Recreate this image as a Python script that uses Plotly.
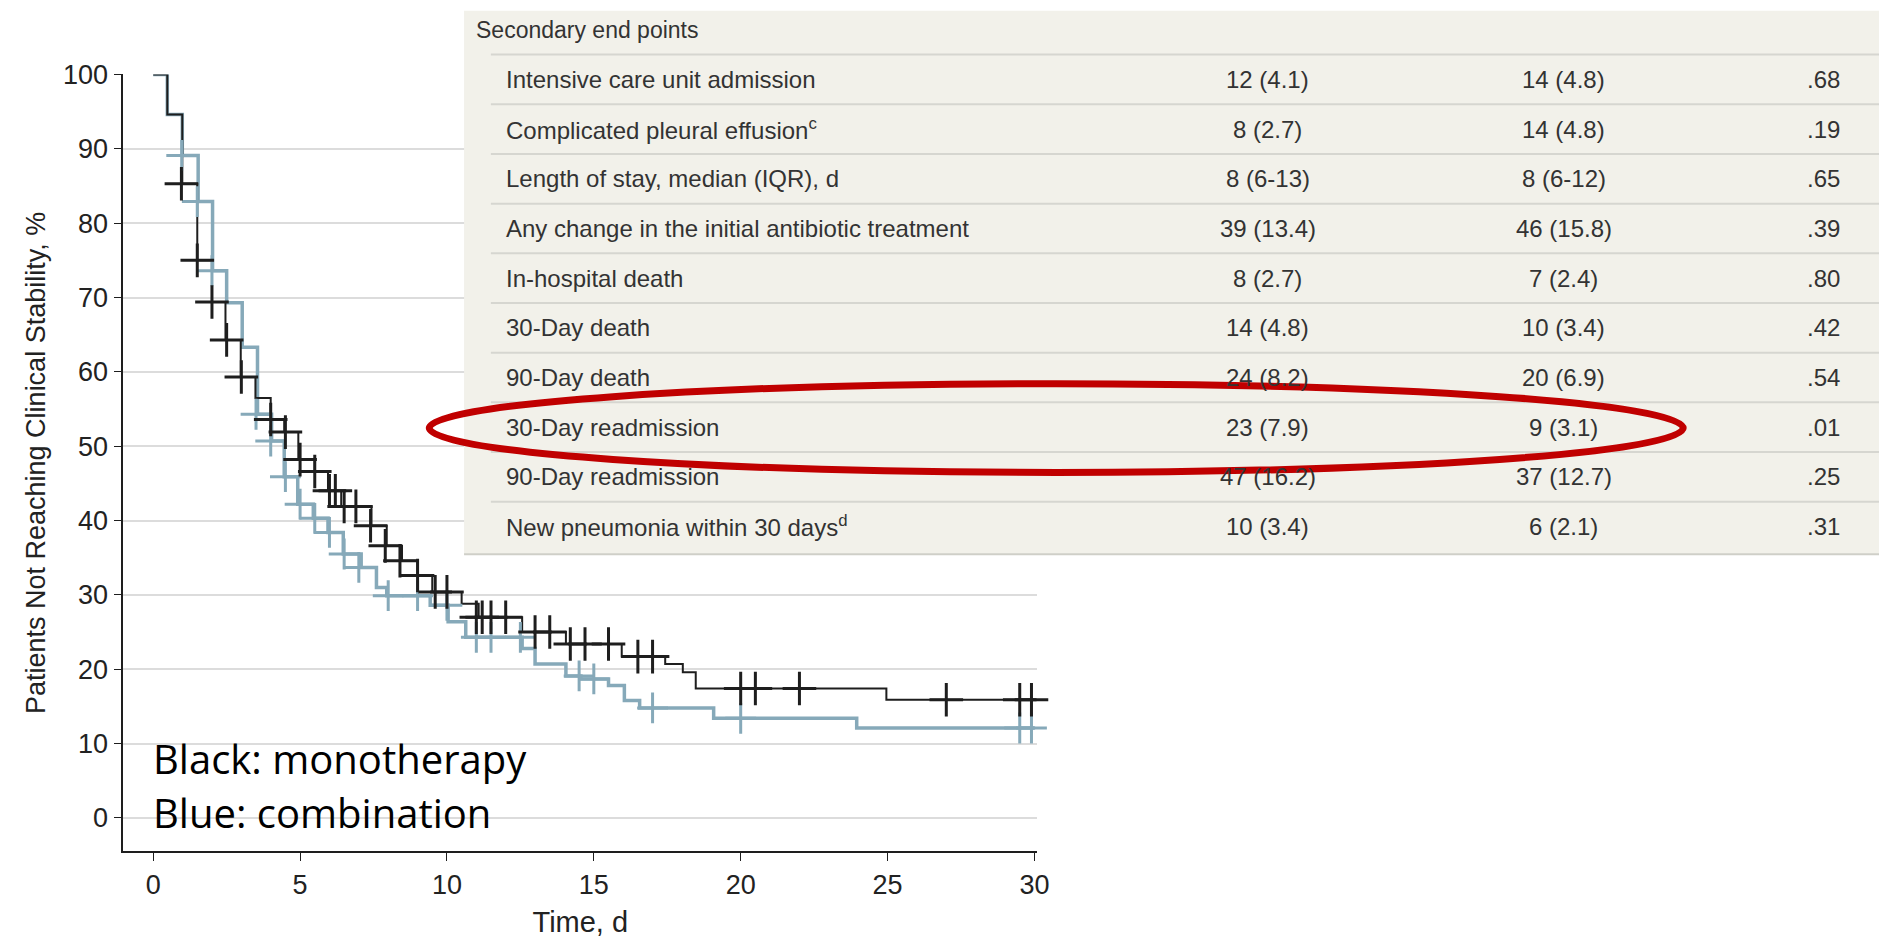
import plotly.graph_objects as go

W, H = 1871, 930  # leaves room for the page's 8px body margin
OFF = 8

# Kaplan-Meier step points (time, % not reaching stability)
mono_t = [0, 0.48, 0.99, 1.5, 2.0, 2.46, 2.98, 3.48, 4.0, 4.46, 4.94, 5.5, 5.95, 6.4, 7.43, 7.95,
          8.47, 9.0, 9.5, 10.5, 11.08, 12.56, 14.05, 15.95, 17.43, 18.03, 18.47, 24.96, 30]
mono_s = [100, 94.6, 85.3, 75.0, 69.4, 64.3, 59.3, 56.5, 53.6, 51.9, 48.2, 46.6, 44.0, 41.9, 39.3, 36.6,
          34.6, 32.6, 30.4, 28.8, 27.0, 25.0, 23.4, 21.7, 20.7, 19.6, 17.4, 15.9, 15.9]
comb_t = [0, 0.48, 0.99, 1.53, 2.02, 2.5, 3.03, 3.55, 4.03, 4.46, 4.92, 5.45, 5.95, 6.47, 7.08, 7.6,
          7.95, 9.43, 10.04, 10.64, 12.56, 13.0, 14.05, 14.56, 15.5, 16.04, 16.56, 19.08, 23.95, 30]
comb_s = [100, 94.6, 89.1, 82.9, 73.6, 69.3, 63.3, 54.3, 50.7, 45.9, 42.2, 40.3, 38.4, 35.5, 33.7, 31.0,
          29.9, 28.6, 26.4, 24.3, 22.8, 20.7, 19.1, 18.7, 17.8, 15.8, 14.8, 13.4, 12.1, 12.1]

# censoring marks
mono_ct = [0.96, 1.5, 2.0, 2.5, 3.0, 4.0, 4.5, 5.0, 5.5, 6.0, 6.2, 6.5, 6.9, 7.4, 7.9, 8.4, 9.0, 9.6, 10.0,
           11.0, 11.2, 11.5, 12.0, 13.0, 13.5, 14.2, 14.7, 15.5, 16.5, 17.0, 20.0, 20.5, 22.0, 27.0, 29.5, 29.9]
mono_cs = [85.3, 75.0, 69.4, 64.3, 59.3, 53.6, 51.9, 48.2, 46.6, 44.0, 44.0, 41.9, 41.9, 39.3, 36.6, 34.6,
           32.6, 30.4, 30.4, 27.0, 27.0, 27.0, 27.0, 25.0, 25.0, 23.4, 23.4, 23.4, 21.7, 21.7, 17.4, 17.4,
           17.4, 15.9, 15.9, 15.9]
comb_ct = [0.97, 1.5, 2.0, 3.5, 4.0, 4.5, 5.0, 5.5, 6.0, 6.5, 7.0, 8.0, 9.0, 10.0, 11.0, 11.5, 12.5,
           14.5, 15.0, 17.0, 20.0, 29.5, 29.9]
comb_cs = [89.1, 82.9, 73.6, 54.3, 50.7, 45.9, 42.2, 40.3, 38.4, 35.5, 33.7, 29.9, 29.9, 28.6, 24.3, 24.3,
           24.3, 19.1, 18.7, 14.8, 13.4, 12.1, 12.1]

# table
header = "Secondary end points"
rows = ["Intensive care unit admission", "Complicated pleural effusion<sup>c</sup>",
        "Length of stay, median (IQR), d", "Any change in the initial antibiotic treatment",
        "In-hospital death", "30-Day death", "90-Day death", "30-Day readmission",
        "90-Day readmission", "New pneumonia within 30 days<sup>d</sup>"]
col_mono = ["12 (4.1)", "8 (2.7)", "8 (6-13)", "39 (13.4)", "8 (2.7)", "14 (4.8)", "24 (8.2)",
            "23 (7.9)", "47 (16.2)", "10 (3.4)"]
col_comb = ["14 (4.8)", "14 (4.8)", "8 (6-12)", "46 (15.8)", "7 (2.4)", "10 (3.4)", "20 (6.9)",
            "9 (3.1)", "37 (12.7)", "6 (2.1)"]
col_p = [".68", ".19", ".65", ".39", ".80", ".42", ".54", ".01", ".25", ".31"]

BLUE = "#86a9b9"
BLACK = "#1e1e1e"
FONT = "Liberation Sans Narrow, Liberation Sans, sans-serif"
TXT = "#333"


def px(x):
    return (x + 4 - OFF) / W


def py(y):
    # empirical correction for where the page really lands
    return 1 - ((y - 12.5) / 0.9865 - OFF) / H


fig = go.Figure()
fig.add_trace(go.Scatter(x=comb_t, y=comb_s, mode="lines", line=dict(color=BLUE, width=3.5, shape="hv")))
fig.add_trace(go.Scatter(x=mono_t, y=mono_s, mode="lines", line=dict(color=BLACK, width=2, shape="hv")))
fig.add_trace(go.Scatter(x=comb_ct, y=comb_cs, mode="markers", cliponaxis=False,
                         marker=dict(symbol="cross-thin", size=22, line=dict(color=BLUE, width=3))))
fig.add_trace(go.Scatter(x=mono_ct, y=mono_cs, mode="markers", cliponaxis=False,
                         marker=dict(symbol="cross-thin", size=24, line=dict(color=BLACK, width=3))))

fig.update_layout(
    width=W, height=H, margin=dict(l=0, r=0, t=0, b=0),
    paper_bgcolor="white", plot_bgcolor="white", showlegend=False,
    font=dict(family=FONT, color="#222"),
    xaxis=dict(domain=[px(120), px(1040)], range=[-1.02, 30.1], tickvals=[0, 5, 10, 15, 20, 25, 30],
               showgrid=False, zeroline=False, showline=True, linecolor=BLACK, linewidth=1.5,
               ticks="outside", ticklen=8, tickcolor=BLACK, tickfont=dict(size=27),
               title=dict(text="Time, d", font=dict(size=29), standoff=14)),
    yaxis=dict(domain=[py(851), py(72)], range=[-4.5, 100], tickvals=list(range(0, 101, 10)),
               showgrid=True, gridcolor="#dcdcdc", gridwidth=2, zeroline=False,
               showline=True, linecolor=BLACK, linewidth=1.5,
               ticks="outside", ticklen=8, tickcolor=BLACK, tickfont=dict(size=27),
               title=dict(text="Patients Not Reaching Clinical Stability, %", font=dict(size=27), standoff=10)),
)

# table box
RIGHT = 1.03
shapes = [dict(type="rect", xref="paper", yref="paper", x0=px(463), x1=RIGHT, y0=py(553), y1=py(8),
               fillcolor="#f2f1ea", line=dict(width=0), layer="above")]
row_h = 49.8
first_y = 77
for i in range(len(rows)):
    yl = first_y - row_h / 2 + i * row_h
    shapes.append(dict(type="line", xref="paper", yref="paper", x0=px(490), x1=RIGHT,
                       y0=py(yl), y1=py(yl), line=dict(color="#d6d6d0", width=2), layer="above"))
shapes.append(dict(type="line", xref="paper", yref="paper", x0=px(463), x1=RIGHT, y0=py(553), y1=py(553),
                   line=dict(color="#cfcfc8", width=2), layer="above"))
shapes.append(dict(type="circle", xref="paper", yref="paper", x0=px(428), x1=px(1690),
                   y0=py(471), y1=py(382), line=dict(color="#c00000", width=7), layer="above"))


def note(text, x, y, anchor, size=24, color=TXT, family=None):
    f = dict(size=size, color=color)
    if family:
        f["family"] = family
    return dict(text=text, x=px(x), y=py(y), xref="paper", yref="paper", xanchor=anchor,
                yanchor="middle", showarrow=False, font=f)


ann = [note(header, 473, 27, "left", size=23)]
for i, r in enumerate(rows):
    yy = first_y + i * row_h
    ann.append(note(r, 503, yy, "left"))
    ann.append(note(col_mono[i], 1272, yy, "center"))
    ann.append(note(col_comb[i], 1570, yy, "center"))
    ann.append(note(col_p[i], 1850, yy, "right"))

ann.append(note("Black: monotherapy", 148, 758, "left", size=40, color="black",
                family="Open Sans, sans-serif"))
ann.append(note("Blue: combination", 148, 812, "left", size=40, color="black",
                family="Open Sans, sans-serif"))

fig.update_layout(shapes=shapes, annotations=ann)
fig.write_html("out.html")
